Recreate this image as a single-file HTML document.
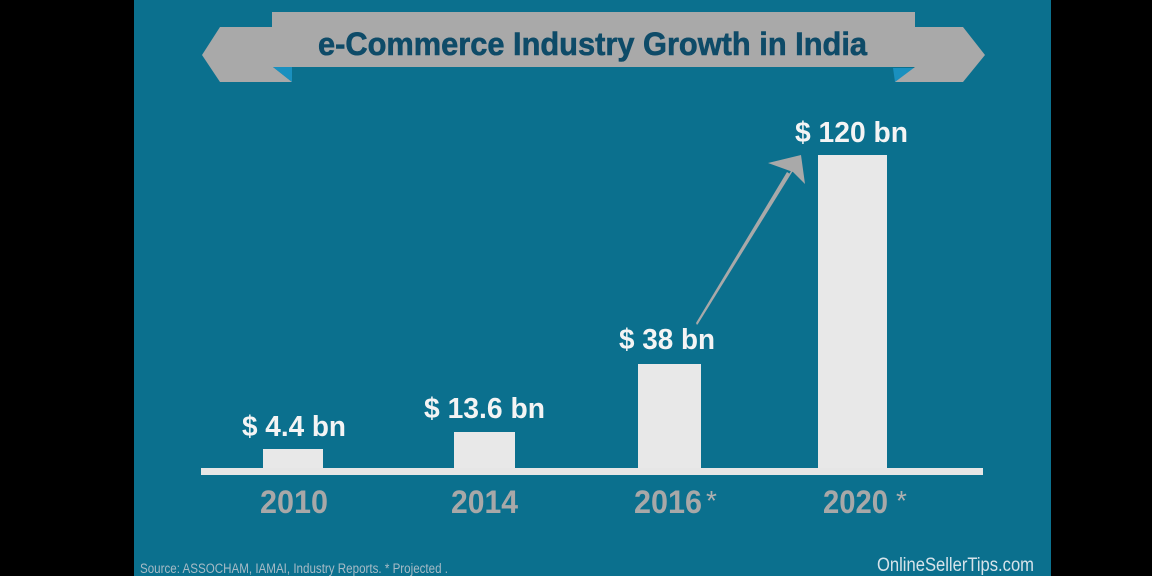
<!DOCTYPE html>
<html>
<head>
<meta charset="utf-8">
<style>
html,body{margin:0;padding:0;background:#000;}
body{width:1152px;height:576px;overflow:hidden;}
svg{display:block;}
</style>
</head>
<body>
<svg width="1152" height="576" viewBox="0 0 1152 576" xmlns="http://www.w3.org/2000/svg">
  <rect x="0" y="0" width="1152" height="576" fill="#000"/>
  <rect x="134" y="0" width="917" height="576" fill="#0b708e"/>

  <!-- banner -->
  <polygon points="220,27 273,27 273,67 292,82 220,82 202,55" fill="#a9a9a9"/>
  <polygon points="273,67 292,67 292,82" fill="#1a90bf"/>
  <polygon points="893,68 915,68 895,82" fill="#1a90bf"/>
  <polygon points="915,27 963,27 985,55 963,82 895,82 915,67" fill="#a9a9a9"/>
  <rect x="272" y="12" width="643" height="55" fill="#a9a9a9"/>
  <text x="318" y="55" font-family="Liberation Sans, sans-serif" font-weight="bold" font-size="32" fill="#0e4b68" stroke="#0e4b68" stroke-width="0.6" textLength="549" lengthAdjust="spacingAndGlyphs">e-Commerce Industry Growth in India</text>

  <!-- bars -->
  <rect x="263" y="449" width="60" height="20" fill="#e8e8e8"/>
  <rect x="454" y="432" width="61" height="37" fill="#e8e8e8"/>
  <rect x="638" y="364" width="63" height="105" fill="#e8e8e8"/>
  <rect x="818" y="155" width="69" height="314" fill="#e8e8e8"/>
  <!-- axis -->
  <rect x="201" y="468" width="782" height="7" fill="#e6e6e6"/>

  <!-- value labels -->
  <g font-family="Liberation Sans, sans-serif" font-weight="bold" font-size="29" fill="#f4f4f4">
    <text x="242" y="436" textLength="104" lengthAdjust="spacingAndGlyphs">$ 4.4 bn</text>
    <text x="424" y="418" textLength="121" lengthAdjust="spacingAndGlyphs">$ 13.6 bn</text>
    <text x="619" y="349" textLength="96" lengthAdjust="spacingAndGlyphs">$ 38 bn</text>
    <text x="795" y="142" textLength="113" lengthAdjust="spacingAndGlyphs">$ 120 bn</text>
  </g>

  <!-- arrow -->
  <polygon points="697,325 696,323 787,172 790,174" fill="#a9a9a9"/>
  <polygon points="768,163 801,155 805,184 793,172" fill="#a9a9a9"/>
  <line x1="697" y1="324" x2="795" y2="166" stroke="#a9a9a9" stroke-width="1.5"/>

  <!-- year labels -->
  <g font-family="Liberation Sans, sans-serif" font-weight="bold" font-size="32" fill="#a8a8a8">
    <text x="260" y="513" textLength="68" lengthAdjust="spacingAndGlyphs">2010</text>
    <text x="451" y="513" textLength="67" lengthAdjust="spacingAndGlyphs">2014</text>
    <text x="634" y="513" textLength="68" lengthAdjust="spacingAndGlyphs">2016</text>
    <text x="823" y="513" textLength="65" lengthAdjust="spacingAndGlyphs">2020</text>
  </g>
  <g font-family="Liberation Sans, sans-serif" font-size="28" fill="#b0b0b0">
    <text x="706" y="510">*</text>
    <text x="896" y="510">*</text>
  </g>

  <!-- footer -->
  <text x="140" y="573" font-family="Liberation Sans, sans-serif" font-size="13.5" fill="#a7bbc6" textLength="308" lengthAdjust="spacingAndGlyphs">Source: ASSOCHAM, IAMAI, Industry Reports. * Projected .</text>
  <text x="877" y="571" font-family="Liberation Sans, sans-serif" font-size="19.5" fill="#d6e3ea" textLength="157" lengthAdjust="spacingAndGlyphs">OnlineSellerTips.com</text>
</svg>
</body>
</html>
